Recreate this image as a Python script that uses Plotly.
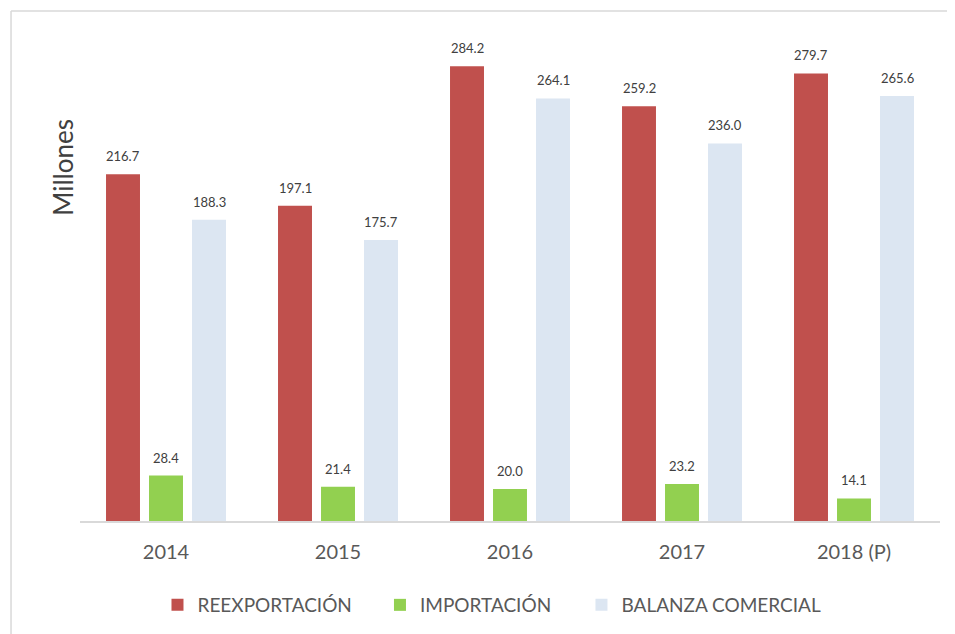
import plotly.graph_objects as go

years = ["2014", "2015", "2016", "2017", "2018 (P)"]
reexportacion = [216.7, 197.1, 284.2, 259.2, 279.7]
importacion = [28.4, 21.4, 20.0, 23.2, 14.1]
balanza = [188.3, 175.7, 264.1, 236.0, 265.6]

series = [
    ("REEXPORTACIÓN", reexportacion, "#C0504D"),
    ("IMPORTACIÓN", importacion, "#92D050"),
    ("BALANZA COMERCIAL", balanza, "#DCE6F2"),
]

FONT = "Lato, 'Open Sans', sans-serif"
legend_ids = ["legend", "legend2", "legend3"]
legend_x = [0.0901, 0.3488, 0.5831]

fig = go.Figure()
for (name, vals, color), lid in zip(series, legend_ids):
    fig.add_trace(go.Bar(x=years, y=vals, name=name, legend=lid,
                         marker=dict(color=color, line=dict(width=0))))

annotations = []
shifts = [-43, 0, 43]
for (name, vals, color), xs in zip(series, shifts):
    for i, v in enumerate(vals):
        annotations.append(dict(x=i, y=v, xref="x", yref="y", text=f"{v:.1f}", showarrow=False,
                                xshift=xs, yshift=8, yanchor="bottom",
                                font=dict(family=FONT, size=13, color="#404040")))

annotations.append(dict(x=-0.0198, y=0.738, xref="paper", yref="paper", text="Millones", showarrow=False,
                        textangle=-90, xanchor="center", yanchor="middle",
                        font=dict(family=FONT, size=26, color="#404040")))

legend_common = dict(orientation="h", xanchor="left", y=-0.175, yanchor="middle",
                     font=dict(family=FONT, size=19, color="#595959"), itemwidth=30,
                     bgcolor="rgba(0,0,0,0)")

# page body has an 8px offset; size/margins compensate so the plot area lands at x 80-940, y 41-521
fig.update_layout(
    width=947, height=626,
    margin=dict(l=72, r=15, t=33, b=113, autoexpand=False),
    paper_bgcolor="white", plot_bgcolor="white",
    barmode="group", bargap=0.25, bargroupgap=0.21,
    annotations=annotations,
    showlegend=True,
    legend=dict(x=legend_x[0], **legend_common),
    legend2=dict(x=legend_x[1], **legend_common),
    legend3=dict(x=legend_x[2], **legend_common),
    xaxis=dict(type="category", range=[-0.5, len(years) - 0.5], showline=True, linecolor="#D9D9D9",
               linewidth=1.5, ticks="", showgrid=False,
               tickfont=dict(family=FONT, size=20, color="#595959"), ticklabelstandoff=12),
    yaxis=dict(range=[0, 300], showticklabels=False, showgrid=False, zeroline=False, showline=False),
    shapes=[
        dict(type="line", xref="paper", yref="paper", x0=-0.0802, x1=1.03, y0=1.0625, y1=1.0625,
             line=dict(color="#D9D9D9", width=1.5)),
        dict(type="line", xref="paper", yref="paper", x0=-0.0802, x1=-0.0802, y0=1.0625, y1=-0.26,
             line=dict(color="#D9D9D9", width=1.5)),
    ],
)

fig.write_html("out.html")
